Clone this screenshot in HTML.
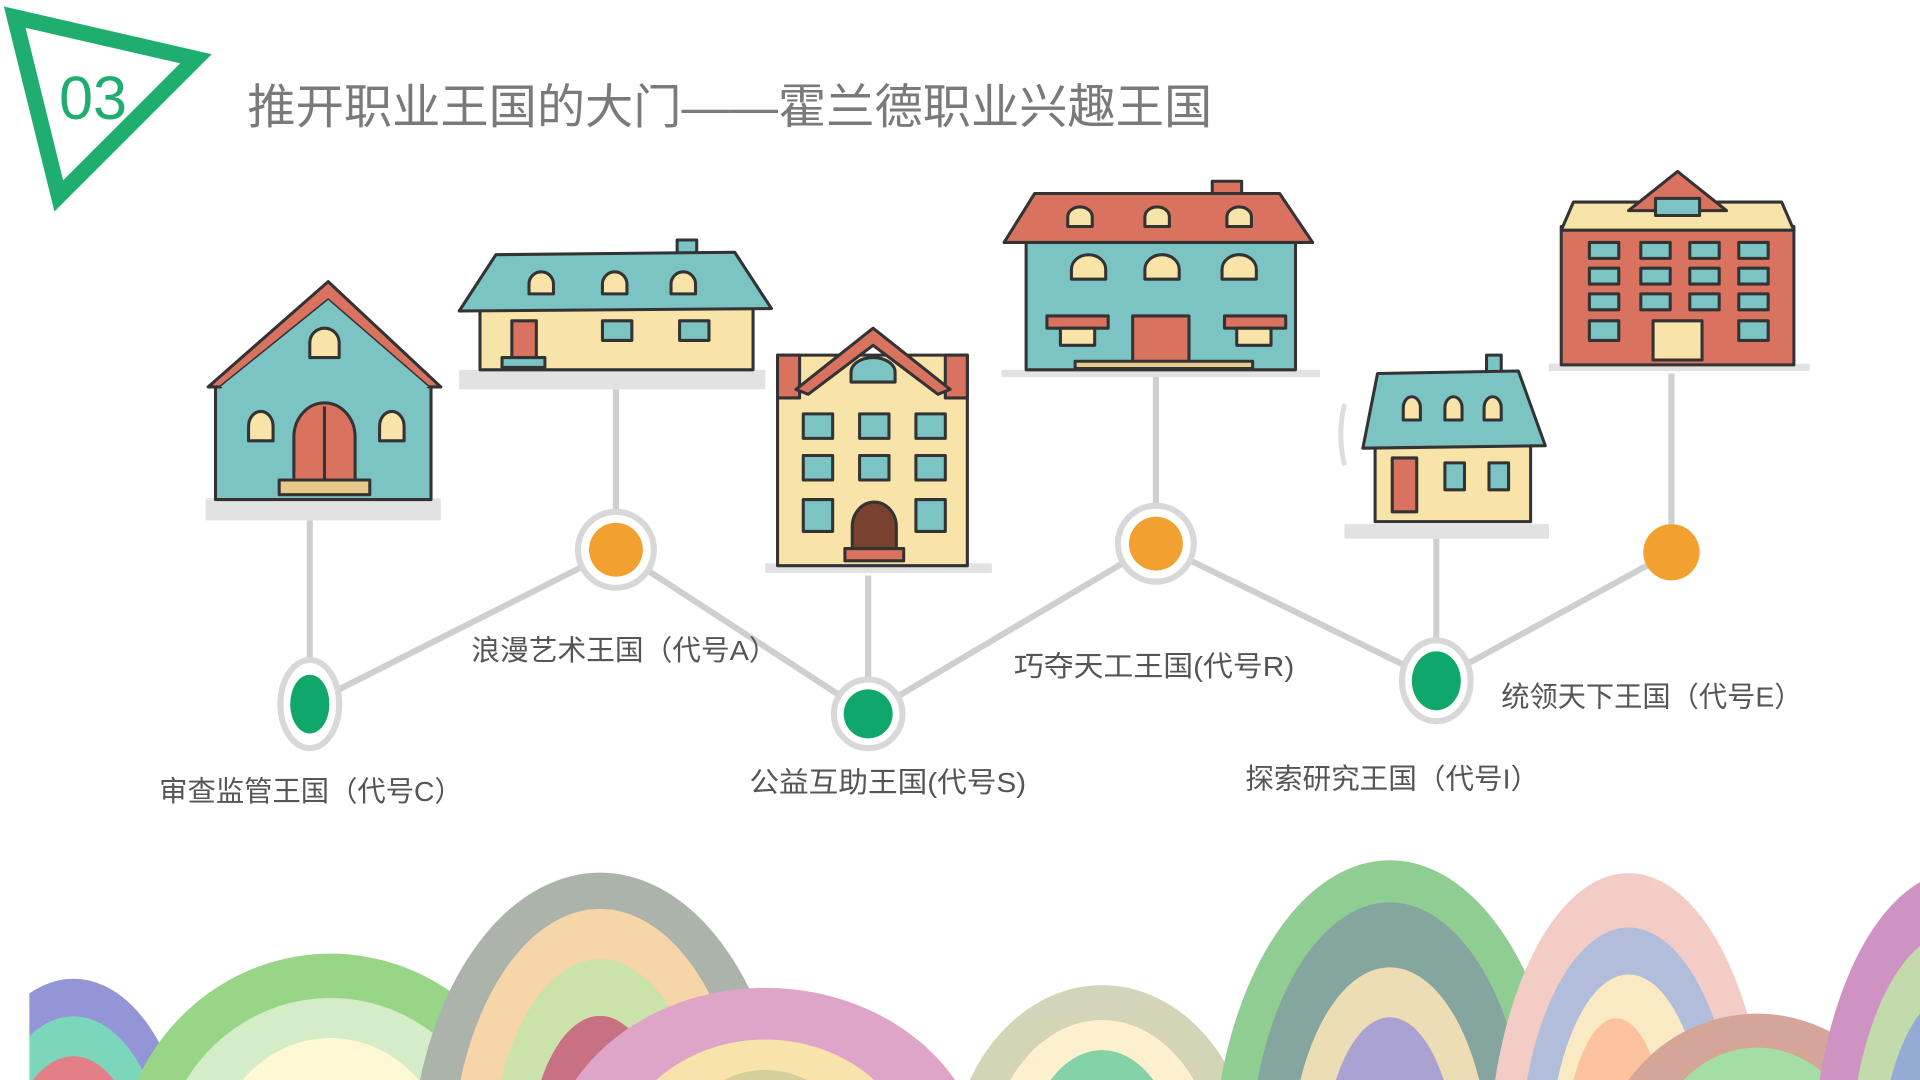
<!DOCTYPE html>
<html><head><meta charset="utf-8"><style>
html,body{margin:0;padding:0;background:#fff;width:1920px;height:1080px;overflow:hidden}
svg{display:block;overflow:hidden;position:absolute;left:0;top:0}
text{font-family:"Liberation Sans","Noto Sans CJK SC",sans-serif}
</style></head><body>
<svg width="1920" height="1080" viewBox="0 0 1568 882" xmlns="http://www.w3.org/2000/svg">
<defs>
<clipPath id="cl"><rect x="24" y="600" width="1544" height="282"/></clipPath>
</defs>
<polygon points="12,14 160,48 48,160" fill="none" stroke="#1fae6f" stroke-width="13" stroke-linejoin="miter"/>
<text x="76" y="97" font-size="50" fill="#1fae6f" text-anchor="middle">03</text>
<text x="202" y="101" font-size="39" fill="#7a7a7a" textLength="788" lengthAdjust="spacingAndGlyphs">推开职业王国的大门——霍兰德职业兴趣王国</text>

<g stroke="#cfcfcf" stroke-width="5" fill="none">
<line x1="253" y1="425" x2="253" y2="548"/>
<line x1="503" y1="318" x2="503" y2="425"/>
<line x1="709" y1="470" x2="709" y2="560"/>
<line x1="944" y1="305" x2="944" y2="418"/>
<line x1="1173" y1="440" x2="1173" y2="528"/>
<line x1="1365" y1="305" x2="1365" y2="428"/>
<polyline points="253,575 503,449 709,583 944,444 1173,556 1365,451"/>
</g>
<g>
<ellipse cx="253" cy="575" rx="24" ry="36" fill="#fff" stroke="#d8d8d8" stroke-width="5"/>
<ellipse cx="253" cy="575" rx="16" ry="24" fill="#0fa86a"/>
<circle cx="503" cy="449" r="31" fill="#fff" stroke="#d8d8d8" stroke-width="5"/>
<circle cx="503" cy="449" r="22" fill="#f2a131"/>
<circle cx="709" cy="583" r="28" fill="#fff" stroke="#d8d8d8" stroke-width="5"/>
<circle cx="709" cy="583" r="20" fill="#0fa86a"/>
<circle cx="944" cy="444" r="31" fill="#fff" stroke="#d8d8d8" stroke-width="5"/>
<circle cx="944" cy="444" r="22" fill="#f2a131"/>
<ellipse cx="1173" cy="556" rx="28" ry="33" fill="#fff" stroke="#d8d8d8" stroke-width="5"/>
<ellipse cx="1173" cy="556" rx="20" ry="24" fill="#0fa86a"/>
<circle cx="1365" cy="451" r="23" fill="#f2a131"/>
</g>
<g font-size="23" fill="#555">
<text x="130" y="654" textLength="248" lengthAdjust="spacingAndGlyphs">审查监管王国（代号C）</text>
<text x="385" y="539" textLength="250" lengthAdjust="spacingAndGlyphs">浪漫艺术王国（代号A）</text>
<text x="612" y="647" textLength="226" lengthAdjust="spacingAndGlyphs">公益互助王国(代号S)</text>
<text x="828" y="552" textLength="229" lengthAdjust="spacingAndGlyphs">巧夺天工王国(代号R)</text>
<text x="1017" y="644" textLength="240" lengthAdjust="spacingAndGlyphs">探索研究王国（代号I）</text>
<text x="1226" y="577" textLength="246" lengthAdjust="spacingAndGlyphs">统领天下王国（代号E）</text>
</g>

<g stroke="#333" stroke-width="2.5" stroke-linejoin="round">
<rect x="168" y="407" width="192" height="18" fill="#e2e2e2" stroke="none"/>
<rect x="176" y="312" width="176" height="96" fill="#7cc4c4"/>
<polygon points="268,230 170,316 180,316 268,245 350,316 360,316" fill="#d9725f"/>
<polygon points="268,245 180,316 350,316" fill="#7cc4c4" stroke="none"/>
<path d="M253,292 v-12 a12,12 0 0 1 24,0 v12 z" fill="#f8e3a8"/>
<path d="M203,360 v-12 a10,12 0 0 1 20,0 v12 z" fill="#f8e3a8"/>
<path d="M310,360 v-12 a10,12 0 0 1 20,0 v12 z" fill="#f8e3a8"/>
<path d="M240,392 v-35 a25,28 0 0 1 50,0 v35 z" fill="#d9725f"/>
<line x1="265" y1="332" x2="265" y2="392"/>
<rect x="228" y="392" width="74" height="12" fill="#e7c98a"/>
<rect x="375" y="302" width="250" height="16" fill="#e2e2e2" stroke="none"/>
<rect x="392" y="252" width="223" height="50" fill="#f8e3a8"/>
<rect x="553" y="196" width="16" height="12" fill="#7cc4c4"/>
<polygon points="405,208 600,206 630,252 375,254" fill="#7cc4c4"/>
<path d="M432,240 v-8 a10,10 0 0 1 20,0 v8 z" fill="#f8e3a8"/>
<path d="M492,240 v-8 a10,10 0 0 1 20,0 v8 z" fill="#f8e3a8"/>
<path d="M548,240 v-8 a10,10 0 0 1 20,0 v8 z" fill="#f8e3a8"/>
<rect x="418" y="262" width="20" height="34" fill="#d9725f"/>
<rect x="410" y="292" width="35" height="8" fill="#7cc4c4"/>
<rect x="492" y="262" width="24" height="16" fill="#7cc4c4"/>
<rect x="555" y="262" width="24" height="16" fill="#7cc4c4"/>
<rect x="625" y="460" width="185" height="8" fill="#e2e2e2" stroke="none"/>
<rect x="635" y="290" width="155" height="172" fill="#f8e3a8"/>
<rect x="635" y="290" width="18" height="35" fill="#d9725f"/>
<rect x="772" y="290" width="18" height="35" fill="#d9725f"/>
<polygon points="713,268 650,318 660,322 713,282 766,322 776,318" fill="#d9725f"/>
<path d="M695,312 v-8 a18,12 0 0 1 36,0 v8 z" fill="#7cc4c4"/>
<g fill="#7cc4c4">
<rect x="656" y="338" width="24" height="20"/><rect x="702" y="338" width="24" height="20"/><rect x="748" y="338" width="24" height="20"/>
<rect x="656" y="372" width="24" height="20"/><rect x="702" y="372" width="24" height="20"/><rect x="748" y="372" width="24" height="20"/>
<rect x="656" y="408" width="24" height="26"/><rect x="748" y="408" width="24" height="26"/>
</g>
<path d="M696,450 v-20 a18,20 0 0 1 36,0 v20 z" fill="#7a4030"/>
<rect x="690" y="448" width="48" height="10" fill="#d9725f"/>
<rect x="818" y="302" width="260" height="6" fill="#e2e2e2" stroke="none"/>
<rect x="838" y="196" width="220" height="106" fill="#7cc4c4"/>
<rect x="990" y="148" width="24" height="10" fill="#d9725f"/>
<polygon points="845,158 1045,158 1072,198 820,198" fill="#d9725f"/>
<g fill="#f8e3a8">
<path d="M872,185 v-8 a10,8 0 0 1 20,0 v8 z"/><path d="M935,185 v-8 a10,8 0 0 1 20,0 v8 z"/><path d="M1002,185 v-8 a10,8 0 0 1 20,0 v8 z"/>
<path d="M875,228 v-8 a14,12 0 0 1 28,0 v8 z"/><path d="M935,228 v-8 a14,12 0 0 1 28,0 v8 z"/><path d="M998,228 v-8 a14,12 0 0 1 28,0 v8 z"/>
</g>
<rect x="925" y="258" width="46" height="38" fill="#d9725f"/>
<rect x="855" y="258" width="50" height="10" fill="#d9725f"/>
<rect x="1000" y="258" width="50" height="10" fill="#d9725f"/>
<rect x="866" y="268" width="28" height="14" fill="#f8e3a8"/>
<rect x="1010" y="268" width="28" height="14" fill="#f8e3a8"/>
<rect x="878" y="295" width="145" height="6" fill="#e7c98a"/>
<rect x="1098" y="428" width="167" height="12" fill="#e2e2e2" stroke="none"/>
<rect x="1123" y="362" width="127" height="64" fill="#f8e3a8"/>
<rect x="1214" y="290" width="12" height="14" fill="#7cc4c4"/>
<polygon points="1125,305 1240,303 1262,364 1113,366" fill="#7cc4c4"/>
<g fill="#f8e3a8"><path d="M1146,343 v-10 a7,9 0 0 1 14,0 v10 z"/><path d="M1180,343 v-10 a7,9 0 0 1 14,0 v10 z"/><path d="M1212,343 v-10 a7,9 0 0 1 14,0 v10 z"/></g>
<rect x="1137" y="374" width="20" height="44" fill="#d9725f"/>
<rect x="1180" y="378" width="16" height="22" fill="#7cc4c4"/>
<rect x="1216" y="378" width="16" height="22" fill="#7cc4c4"/>
<rect x="1265" y="297" width="213" height="6" fill="#e2e2e2" stroke="none"/>
<rect x="1275" y="185" width="190" height="113" fill="#d9725f"/>
<polygon points="1285,165 1455,165 1465,188 1275,188" fill="#f8e3a8"/>
<polygon points="1370,140 1330,172 1410,172" fill="#d9725f"/>
<rect x="1352" y="162" width="36" height="14" fill="#7cc4c4"/>
<g fill="#7cc4c4">
<rect x="1298" y="198" width="24" height="13"/><rect x="1340" y="198" width="24" height="13"/><rect x="1380" y="198" width="24" height="13"/><rect x="1420" y="198" width="24" height="13"/>
<rect x="1298" y="219" width="24" height="13"/><rect x="1340" y="219" width="24" height="13"/><rect x="1380" y="219" width="24" height="13"/><rect x="1420" y="219" width="24" height="13"/>
<rect x="1298" y="240" width="24" height="13"/><rect x="1340" y="240" width="24" height="13"/><rect x="1380" y="240" width="24" height="13"/><rect x="1420" y="240" width="24" height="13"/>
<rect x="1298" y="262" width="24" height="16"/><rect x="1420" y="262" width="24" height="16"/>
<rect x="1350" y="262" width="40" height="32" fill="#f8e3a8"/>
</g>
</g>
<path d="M1098,330 q-6,25 0,50" stroke="#ddd" stroke-width="4" fill="none"/>

<g clip-path="url(#cl)" opacity="0.75">
<path d="M-23,882 A95,161 0 0 1 143,882Z" fill="#6f72c9"/>
<path d="M0,882 A75,130 0 0 1 120,882Z" fill="#50c9a6"/>
<path d="M27,882 A55,97 0 0 1 93,882Z" fill="#d9545f"/>
<path d="M112,882 A175,181 0 0 1 428,882Z" fill="#78c860"/>
<path d="M152,882 A140,145 0 0 1 388,882Z" fill="#c8e6b8"/>
<path d="M198,882 A100,112 0 0 1 342,882Z" fill="#fff6c6"/>
<path d="M343,882 A155,248 0 0 1 637,882Z" fill="#8f9a8e"/>
<path d="M376,882 A122,217 0 0 1 604,882Z" fill="#f3c88c"/>
<path d="M409,882 A90,175 0 0 1 571,882Z" fill="#bcd990"/>
<path d="M442,882 A60,131 0 0 1 538,882Z" fill="#b5425a"/>
<path d="M470,882 A180,153 0 0 1 780,882Z" fill="#d488b8"/>
<path d="M536,882 A125,111 0 0 1 714,882Z" fill="#f6dc90"/>
<path d="M591,882 A80,86 0 0 1 659,882Z" fill="#c6c07a"/>
<path d="M792,882 A125,156 0 0 1 1008,882Z" fill="#c6c6a0"/>
<path d="M825,882 A95,127 0 0 1 975,882Z" fill="#fdecc0"/>
<path d="M858,882 A65,103 0 0 1 942,882Z" fill="#5cc48c"/>
<path d="M997,882 A145,259 0 0 1 1273,882Z" fill="#6cbd6e"/>
<path d="M1027,882 A115,221 0 0 1 1243,882Z" fill="#5d8880"/>
<path d="M1062,882 A82,169 0 0 1 1208,882Z" fill="#e6d29c"/>
<path d="M1091,882 A55,128 0 0 1 1179,882Z" fill="#8e84c4"/>
<path d="M1221,882 A115,248 0 0 1 1439,882Z" fill="#f0bcb4"/>
<path d="M1247,882 A90,203 0 0 1 1413,882Z" fill="#98a8d0"/>
<path d="M1272,882 A66,165 0 0 1 1388,882Z" fill="#f8e4b0"/>
<path d="M1285,882 A44,128 0 0 1 1355,882Z" fill="#fcae80"/>
<path d="M1330,882 A130,132 0 0 1 1540,882Z" fill="#c88878"/>
<path d="M1375,882 A90,104 0 0 1 1495,882Z" fill="#88d488"/>
<path d="M1486,882 A120,248 0 0 1 1714,882Z" fill="#c070b0"/>
<path d="M1517,882 A90,200 0 0 1 1683,882Z" fill="#b0d090"/>
<path d="M1544,882 A65,150 0 0 1 1656,882Z" fill="#7090c8"/>
<path d="M1572,882 A40,110 0 0 1 1628,882Z" fill="#60d0a0"/>
</g>
</svg>
</body></html>
